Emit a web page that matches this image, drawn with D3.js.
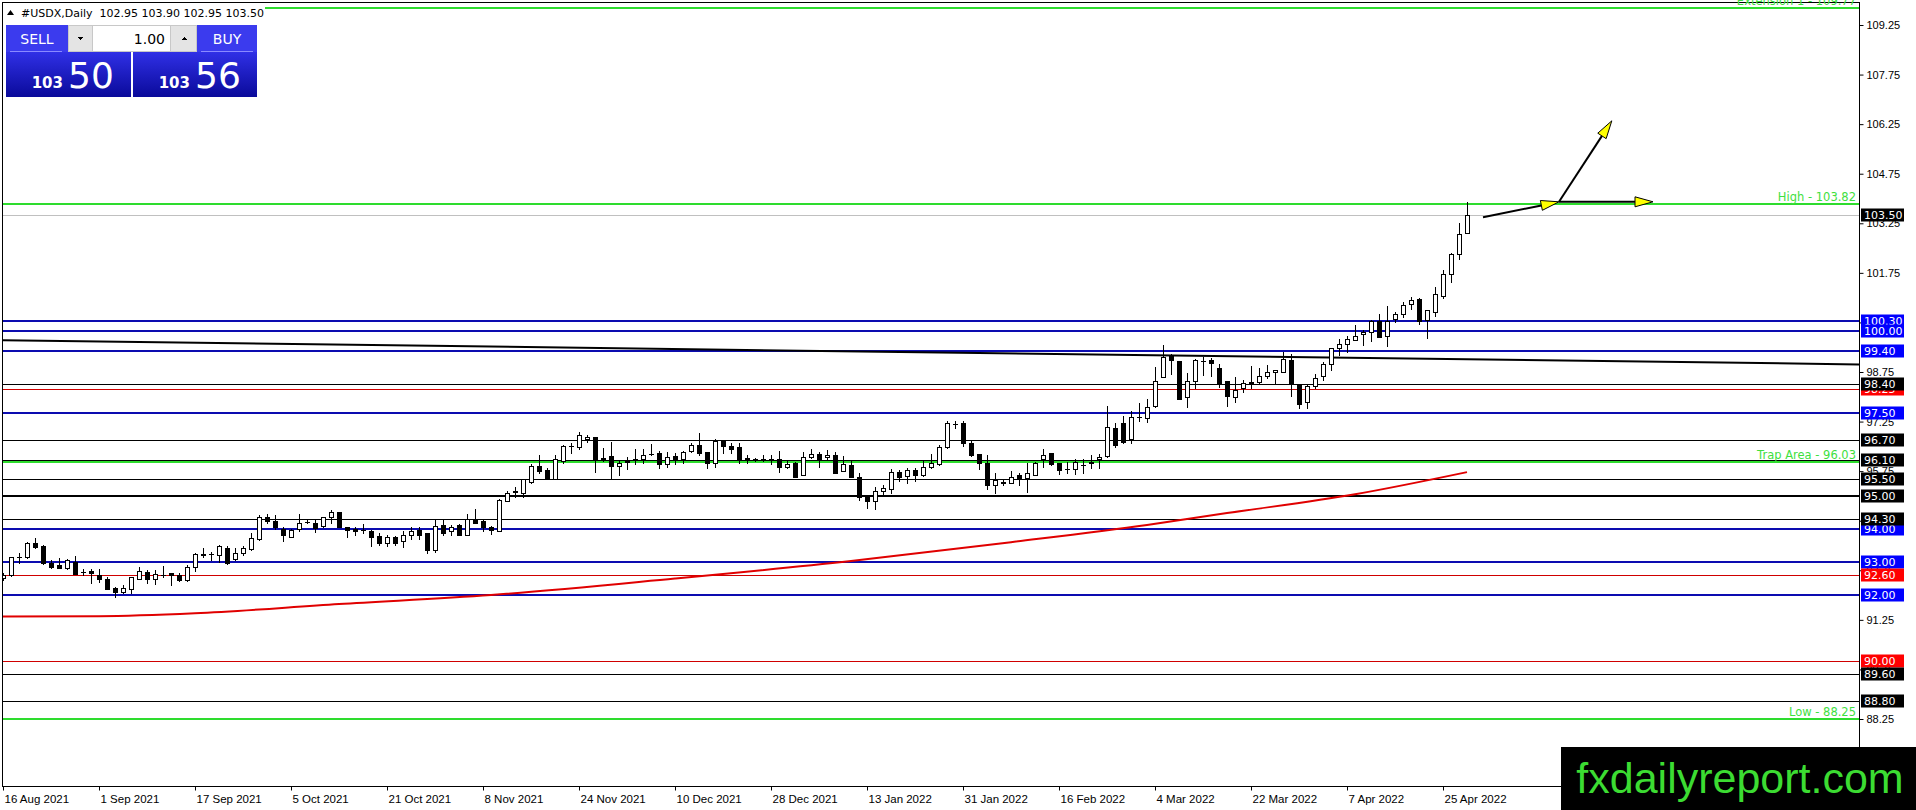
<!DOCTYPE html>
<html>
<head>
<meta charset="utf-8">
<script src="https://cdn.jsdelivr.net/npm/d3@7"></script>
<style>
  body { margin: 0; background: #fff; }
  svg { display: block; font-family: "DejaVu Sans", sans-serif; }
</style>
</head>
<body>
<svg id="chart" width="1916" height="810"></svg>
<script>
// Daily bars, [open, high, low, close], 16 Aug 2021 .. 28 Apr 2022
const candles = [
  [92.52,92.66,92.45,92.62],[92.60,93.16,92.58,93.14],[93.14,93.26,92.96,93.15],[93.14,93.61,93.12,93.59],
  [93.57,93.73,93.42,93.45],[93.49,93.51,92.93,92.96],[92.98,93.06,92.81,92.86],[92.90,93.11,92.81,92.81],
  [92.81,93.08,92.80,93.06],[93.01,93.18,92.63,92.64],[92.69,92.78,92.61,92.71],[92.72,92.78,92.38,92.66],
  [92.62,92.78,92.40,92.50],[92.49,92.56,92.17,92.19],[92.22,92.24,91.93,92.09],[92.09,92.30,92.07,92.22],
  [92.19,92.56,92.05,92.54],[92.50,92.84,92.48,92.72],[92.70,92.76,92.38,92.50],[92.50,92.76,92.32,92.64],
  [92.60,92.88,92.56,92.62],[92.66,92.68,92.30,92.62],[92.62,92.66,92.42,92.46],[92.46,92.90,92.44,92.86],
  [92.84,93.26,92.74,93.24],[93.22,93.43,93.16,93.24],[93.24,93.31,93.06,93.23],[93.21,93.51,93.00,93.49],
  [93.42,93.49,92.94,92.96],[93.08,93.42,93.06,93.28],[93.26,93.47,93.21,93.43],[93.38,93.87,93.35,93.72],
  [93.69,94.43,93.67,94.37],[94.35,94.45,94.17,94.23],[94.25,94.43,93.99,94.07],[93.99,94.07,93.65,93.81],
  [93.77,93.99,93.77,93.97],[93.99,94.45,93.95,94.19],[94.21,94.29,94.17,94.20],[94.17,94.27,93.91,94.03],
  [94.09,94.37,94.07,94.35],[94.35,94.57,94.17,94.51],[94.51,94.51,94.05,94.05],[94.05,94.07,93.75,93.97],
  [94.00,94.05,93.83,93.93],[93.97,94.15,93.87,93.96],[93.95,93.97,93.47,93.77],[93.79,93.87,93.53,93.59],
  [93.59,93.82,93.47,93.75],[93.75,93.79,93.53,93.59],[93.63,93.95,93.45,93.83],[93.81,94.05,93.69,93.94],
  [93.97,94.05,93.69,93.83],[93.87,93.87,93.27,93.35],[93.35,94.31,93.29,94.09],[94.13,94.29,93.83,93.87],
  [93.93,94.11,93.81,94.07],[94.11,94.15,93.81,93.83],[93.83,94.45,93.81,94.31],[94.31,94.60,94.17,94.19],
  [94.23,94.27,93.93,94.05],[94.05,94.09,93.85,93.97],[93.95,94.90,93.95,94.88],[94.86,95.16,94.84,95.10],
  [95.13,95.28,94.98,95.14],[95.10,95.50,94.96,95.50],[95.42,95.97,95.40,95.91],[95.91,96.23,95.68,95.75],
  [95.79,95.83,95.50,95.50],[95.52,96.25,95.50,96.11],[96.07,96.55,96.01,96.51],[96.51,96.59,96.29,96.52],
  [96.47,96.93,96.41,96.83],[96.72,96.85,96.63,96.77],[96.77,96.77,95.73,96.11],[96.13,96.45,96.05,96.14],
  [96.21,96.63,95.50,95.91],[95.91,96.09,95.64,96.01],[96.04,96.17,95.81,96.05],[96.09,96.43,95.97,96.11],
  [96.13,96.41,96.01,96.25],[96.27,96.57,96.23,96.28],[96.31,96.35,95.83,95.97],[95.97,96.33,95.89,96.19],
  [96.21,96.29,95.97,96.13],[96.11,96.37,95.99,96.33],[96.35,96.61,96.33,96.55],[96.53,96.89,96.25,96.31],
  [96.33,96.33,95.83,95.99],[95.99,96.71,95.87,96.65],[96.65,96.69,96.31,96.51],[96.51,96.61,96.31,96.43],
  [96.47,96.59,96.01,96.13],[96.13,96.25,96.01,96.14],[96.11,96.15,96.07,96.12],[96.12,96.24,96.06,96.13],
  [96.13,96.25,95.98,96.12],[96.11,96.37,95.72,95.89],[95.89,96.05,95.83,95.97],[96.01,96.03,95.56,95.56],
  [95.62,96.33,95.62,96.19],[96.19,96.43,96.15,96.27],[96.27,96.33,95.87,96.11],[96.17,96.39,96.11,96.23],
  [96.25,96.33,95.68,95.70],[95.74,96.21,95.74,95.97],[95.93,96.05,95.56,95.58],[95.58,95.68,94.88,94.98],
  [95.00,95.04,94.64,94.86],[94.84,95.26,94.61,95.14],[95.14,95.34,95.06,95.24],[95.22,95.82,95.10,95.72],
  [95.72,95.78,95.46,95.58],[95.60,95.86,95.40,95.78],[95.78,95.85,95.44,95.62],[95.62,96.05,95.60,95.87],
  [95.87,96.27,95.83,95.99],[95.97,96.53,95.93,96.47],[96.47,97.28,96.45,97.20],[97.18,97.28,97.06,97.19],
  [97.22,97.28,96.51,96.61],[96.61,96.65,96.21,96.23],[96.27,96.27,95.81,95.99],[95.99,96.23,95.22,95.32],
  [95.32,95.68,95.10,95.48],[95.40,95.48,95.32,95.41],[95.40,95.74,95.38,95.58],[95.62,95.68,95.32,95.50],
  [95.54,96.01,95.12,95.68],[95.64,96.03,95.64,96.01],[96.11,96.41,95.89,96.25],[96.29,96.29,95.95,95.97],
  [95.99,96.01,95.66,95.78],[95.80,96.03,95.68,95.81],[95.80,96.13,95.66,96.03],[95.93,96.11,95.68,95.95],
  [96.01,96.23,95.85,96.03],[96.11,96.27,95.85,96.19],[96.21,97.72,96.19,97.08],[97.06,97.20,96.49,96.53],
  [97.20,97.42,96.61,96.63],[96.71,97.56,96.61,97.38],[97.38,97.80,97.28,97.39],[97.36,97.94,97.24,97.70],
  [97.72,98.89,97.70,98.49],[98.59,99.56,98.59,99.21],[99.23,99.29,98.69,99.11],[99.07,99.07,97.94,97.94],
  [97.98,98.73,97.68,98.49],[98.49,99.13,98.27,99.11],[99.07,99.19,98.65,99.08],[99.11,99.17,98.63,99.01],
  [98.88,99.00,98.30,98.38],[98.48,98.48,97.71,98.01],[97.99,98.60,97.83,98.20],[98.28,98.50,98.13,98.41],
  [98.45,98.94,98.28,98.41],[98.46,98.86,98.38,98.62],[98.62,98.96,98.56,98.76],[98.74,98.80,98.38,98.80],
  [98.76,99.35,98.76,99.14],[99.10,99.29,98.01,98.42],[98.38,98.40,97.67,97.79],[97.83,98.38,97.67,98.32],
  [98.32,98.70,98.28,98.56],[98.62,99.04,98.50,98.98],[98.98,99.49,98.82,99.47],[99.47,99.75,99.27,99.61],
  [99.61,99.83,99.37,99.75],[99.73,100.17,99.73,99.83],[99.89,100.01,99.57,99.95],[99.97,100.33,99.69,100.29],
  [100.29,100.49,99.81,99.81],[99.83,100.74,99.55,100.29],[100.35,100.57,100.25,100.49],[100.49,100.86,100.41,100.78],
  [100.80,101.02,100.66,100.94],[100.96,101.00,100.19,100.29],[100.31,100.62,99.79,100.62],[100.58,101.32,100.43,101.10],
  [101.04,101.83,101.00,101.71],[101.73,102.35,101.48,102.31],[102.31,103.26,102.17,102.94],[102.95,103.90,102.95,103.50]
];

// x axis labels (bar index of each label)
const dateTickBars = [0, 12, 24, 36, 48, 60, 72, 84, 96, 108, 120, 132, 144, 156, 168, 180];
const dateTicks = ["16 Aug 2021", "1 Sep 2021", "17 Sep 2021", "5 Oct 2021", "21 Oct 2021", "8 Nov 2021",
  "24 Nov 2021", "10 Dec 2021", "28 Dec 2021", "13 Jan 2022", "31 Jan 2022", "16 Feb 2022",
  "4 Mar 2022", "22 Mar 2022", "7 Apr 2022", "25 Apr 2022"];

// price scale labels
const priceTicks = [88.25, 89.75, 91.25, 92.75, 94.25, 95.75, 97.25, 98.75, 100.25, 101.75, 103.25,
  104.75, 106.25, 107.75, 109.25];

// horizontal levels
const blueLevels = [100.30, 100.00, 99.40, 97.50, 94.00, 93.00, 92.00];
const redLevels = [98.25, 92.60, 90.00];
const blackLevels = [98.40, 96.70, 96.10, 95.50, 95.00, 94.30, 89.60, 88.80];
const greenLevels = [109.77, 103.82, 96.03, 88.25];
const greenNames = ["Extension 1", "High", "Trap Area", "Low"];
const lastPrice = 103.50;

// moving average (red), read at some bars
const maPoints = [[0, 91.35], [12, 91.36], [24, 91.45], [42, 91.73], [61, 92.0], [84, 92.5], [106, 93.03],
  [126, 93.6], [143, 94.12], [153, 94.48], [169, 95.05], [183, 95.72]];

// trend line (black), bar index / price at both ends
const trendPoints = [[-0.1, 99.71], [232, 98.98]];

// projection arrows drawn after the last bar
const arrowPaths = [
  [[185, 103.43], [194.5, 103.90]],
  [[194.5, 103.90], [206.25, 103.90]],
  [[194.5, 103.90], [201.1, 106.35]]
];

const title = "#USDX,Daily  102.95 103.90 102.95 103.50";
const bid = ["103", "50"], ask = ["103", "56"], lots = "1.00";

// ---------------------------------------------------------------
const svg = d3.select("#chart");
const plotLeft = 2, plotTop = 2, plotRight = 1859, plotBottom = 786;

const x = d3.scaleLinear().domain([0, 183]).range([3, 1467]);
const y = d3.scaleLinear().domain([88.25, 109.25]).range([719, 25]);

svg.append("defs").append("clipPath").attr("id", "plot")
  .append("rect").attr("x", plotLeft + 1).attr("y", plotTop + 1)
  .attr("width", plotRight - plotLeft - 1).attr("height", plotBottom - plotTop - 1);

const plot = svg.append("g").attr("clip-path", "url(#plot)");
const py = v => Math.round(y(v)) + 0.5;

function hline(v, color, width) {
  const yy = width % 2 ? py(v) : Math.round(y(v));
  plot.append("line")
    .attr("x1", plotLeft).attr("x2", plotRight)
    .attr("y1", yy).attr("y2", yy)
    .attr("stroke", color).attr("stroke-width", width)
    .attr("shape-rendering", "crispEdges");
}

// level lines
hline(lastPrice, "#c0c0c0", 1);
blackLevels.forEach(v => hline(v, "#000", v === 95.00 ? 2 : 1));
redLevels.forEach(v => hline(v, "#d00000", 1));
blueLevels.forEach(v => hline(v, "#0c0cb0", 2));
greenLevels.forEach(v => hline(v, "#2edc2e", 2));

// trend line
plot.append("path")
  .attr("d", d3.line().x(d => x(d[0])).y(d => y(d[1]))(trendPoints))
  .attr("fill", "none").attr("stroke", "#000").attr("stroke-width", 2);

// moving average
plot.append("path")
  .attr("d", d3.line().curve(d3.curveMonotoneX).x(d => x(d[0])).y(d => y(d[1]))(maPoints))
  .attr("fill", "none").attr("stroke", "#e00000").attr("stroke-width", 2);

// candles
const bars = plot.append("g").attr("shape-rendering", "crispEdges");
candles.forEach((d, i) => {
  const [o, h, l, c] = d;
  const cx = Math.round(x(i)) + 0.5;
  bars.append("line").attr("x1", cx).attr("x2", cx)
    .attr("y1", Math.round(y(h))).attr("y2", Math.round(y(l)) + 1)
    .attr("stroke", "#000");
  const top = Math.round(y(Math.max(o, c))), bot = Math.round(y(Math.min(o, c)));
  if (bot - top < 1) {
    bars.append("line").attr("x1", cx - 2.5).attr("x2", cx + 2.5)
      .attr("y1", top + 0.5).attr("y2", top + 0.5).attr("stroke", "#000");
  } else {
    bars.append("rect").attr("x", cx - 2).attr("y", top + 0.5)
      .attr("width", 4).attr("height", bot - top)
      .attr("fill", c >= o ? "#fff" : "#000").attr("stroke", "#000");
  }
});

// arrows
const arrowG = plot.append("g");
arrowPaths.forEach(p => {
  const x1 = x(p[0][0]), y1 = y(p[0][1]), x2 = x(p[1][0]), y2 = y(p[1][1]);
  const a = Math.atan2(y2 - y1, x2 - x1);
  const len = 18, hw = 5;
  const bx = x2 - len * Math.cos(a), by = y2 - len * Math.sin(a);
  arrowG.append("line").attr("x1", x1).attr("y1", y1).attr("x2", bx).attr("y2", by)
    .attr("stroke", "#000").attr("stroke-width", 2);
  const pts = [[x2, y2],
    [bx + hw * Math.sin(a), by - hw * Math.cos(a)],
    [bx - hw * Math.sin(a), by + hw * Math.cos(a)]];
  arrowG.append("polygon").attr("points", pts.map(q => q.join(",")).join(" "))
    .attr("fill", "#ffff00").attr("stroke", "#000").attr("stroke-width", 1);
});

// frame
const frame = svg.append("g").attr("stroke", "#000").attr("shape-rendering", "crispEdges");
frame.append("line").attr("x1", plotLeft + 0.5).attr("x2", plotLeft + 0.5).attr("y1", plotTop).attr("y2", plotBottom);
frame.append("line").attr("x1", plotLeft).attr("x2", plotRight).attr("y1", plotTop + 0.5).attr("y2", plotTop + 0.5);
frame.append("line").attr("x1", plotRight + 0.5).attr("x2", plotRight + 0.5).attr("y1", plotTop).attr("y2", plotBottom + 1);
frame.append("line").attr("x1", plotLeft).attr("x2", plotRight + 1).attr("y1", plotBottom + 0.5).attr("y2", plotBottom + 0.5);

// green level captions (drawn over the frame, the top one runs past the edge)
svg.append("g").selectAll("text").data(greenLevels).enter().append("text")
  .attr("x", plotRight - 3).attr("y", d => y(d) - 3)
  .attr("text-anchor", "end").attr("font-size", 11.5).attr("fill", "#3ee03e")
  .text((d, i) => greenNames[i] + " - " + d.toFixed(2));

// price axis
svg.append("g").attr("transform", `translate(${plotRight + 0.5},0)`)
  .call(d3.axisRight(y).tickValues(priceTicks).tickSize(4).tickPadding(3).tickFormat(d3.format(".2f")))
  .call(g => g.select(".domain").remove())
  .call(g => g.selectAll("text").attr("font-size", 11).attr("fill", "#000").attr("font-family", null))
  .call(g => g.selectAll("line").attr("stroke", "#000"));

// date axis
svg.append("g").attr("transform", `translate(0,${plotBottom + 0.5})`)
  .call(d3.axisBottom(x).tickValues(dateTickBars).tickSize(4).tickPadding(4).tickFormat((d, i) => dateTicks[i]))
  .call(g => g.select(".domain").remove())
  .call(g => g.selectAll("text").attr("font-size", 11.5).attr("fill", "#000")
    .attr("text-anchor", "start").attr("x", 1).attr("font-family", null))
  .call(g => g.selectAll("line").attr("stroke", "#000"));

// level price tags on the axis
function tag(v, color) {
  const g = svg.append("g").attr("transform", `translate(${plotRight + 2},${Math.round(y(v))})`);
  g.append("rect").attr("x", 0).attr("y", -6.5).attr("width", 43).attr("height", 13).attr("fill", color);
  g.append("text").attr("x", 3).attr("y", 4).attr("font-size", 11).attr("fill", "#fff").text(v.toFixed(2));
}
blueLevels.forEach(v => tag(v, "#0000ff"));
redLevels.forEach(v => tag(v, "#ff0000"));
blackLevels.forEach(v => tag(v, "#000"));
tag(lastPrice, "#000");

// title
svg.append("rect").attr("x", 3).attr("y", 3).attr("width", 262).attr("height", 17).attr("fill", "#fff");
svg.append("path").attr("d", "M7,15 L10.5,10 L14,15 Z").attr("fill", "#000");
svg.append("text").attr("x", 21).attr("y", 17).attr("font-size", 11).attr("fill", "#000")
  .attr("xml:space", "preserve").text(title);

// one-click trading panel
const defs = svg.select("defs");
const grad = defs.append("linearGradient").attr("id", "quote").attr("x1", 0).attr("x2", 0).attr("y1", 0).attr("y2", 1);
grad.append("stop").attr("offset", "0%").attr("stop-color", "#3030e6");
grad.append("stop").attr("offset", "100%").attr("stop-color", "#0a0a9a");

const panel = svg.append("g").attr("shape-rendering", "crispEdges");
panel.append("rect").attr("x", 6).attr("y", 25).attr("width", 62).attr("height", 27).attr("fill", "#3b3bee");
panel.append("rect").attr("x", 197).attr("y", 25).attr("width", 60).attr("height", 27).attr("fill", "#3b3bee");
panel.append("rect").attr("x", 6).attr("y", 52).attr("width", 125).attr("height", 45).attr("fill", "url(#quote)");
panel.append("rect").attr("x", 133).attr("y", 52).attr("width", 124).attr("height", 45).attr("fill", "url(#quote)");
panel.append("line").attr("x1", 10).attr("x2", 62).attr("y1", 51.5).attr("y2", 51.5).attr("stroke", "#8a8aff");
panel.append("line").attr("x1", 201).attr("x2", 253).attr("y1", 51.5).attr("y2", 51.5).attr("stroke", "#8a8aff");
panel.append("rect").attr("x", 68.5).attr("y", 25.5).attr("width", 128).attr("height", 26)
  .attr("fill", "#fff").attr("stroke", "#c8c8c8");
panel.append("rect").attr("x", 68.5).attr("y", 25.5).attr("width", 24).attr("height", 26)
  .attr("fill", "#e4e4e4").attr("stroke", "#c8c8c8");
panel.append("rect").attr("x", 170.5).attr("y", 25.5).attr("width", 26).attr("height", 26)
  .attr("fill", "#e4e4e4").attr("stroke", "#c8c8c8");
panel.append("path").attr("d", "M77,37 L83,37 L80,40 Z").attr("fill", "#000").attr("shape-rendering", null);
panel.append("path").attr("d", "M181,40 L187,40 L184,37 Z").attr("fill", "#000").attr("shape-rendering", null);

const ptxt = svg.append("g").attr("fill", "#fff");
ptxt.append("text").attr("x", 37).attr("y", 44).attr("text-anchor", "middle").attr("font-size", 14).text("SELL");
ptxt.append("text").attr("x", 227).attr("y", 44).attr("text-anchor", "middle").attr("font-size", 14).text("BUY");
svg.append("text").attr("x", 165).attr("y", 44).attr("text-anchor", "end").attr("font-size", 14).attr("fill", "#000").text(lots);
ptxt.append("text").attr("x", 63).attr("y", 88).attr("text-anchor", "end").attr("font-size", 15).attr("font-weight", "bold").text(bid[0]);
ptxt.append("text").attr("x", 68).attr("y", 88).attr("font-size", 36).text(bid[1]);
ptxt.append("text").attr("x", 190).attr("y", 88).attr("text-anchor", "end").attr("font-size", 15).attr("font-weight", "bold").text(ask[0]);
ptxt.append("text").attr("x", 195).attr("y", 88).attr("font-size", 36).text(ask[1]);

// watermark
svg.append("rect").attr("x", 1561).attr("y", 747).attr("width", 355).attr("height", 63).attr("fill", "#000");
svg.append("text").attr("x", 1740).attr("y", 793).attr("text-anchor", "middle")
  .attr("font-family", "'Liberation Sans', Arial, sans-serif").attr("font-size", 43)
  .attr("fill", "#3cdc32").text("fxdailyreport.com");
</script>
</body>
</html>
